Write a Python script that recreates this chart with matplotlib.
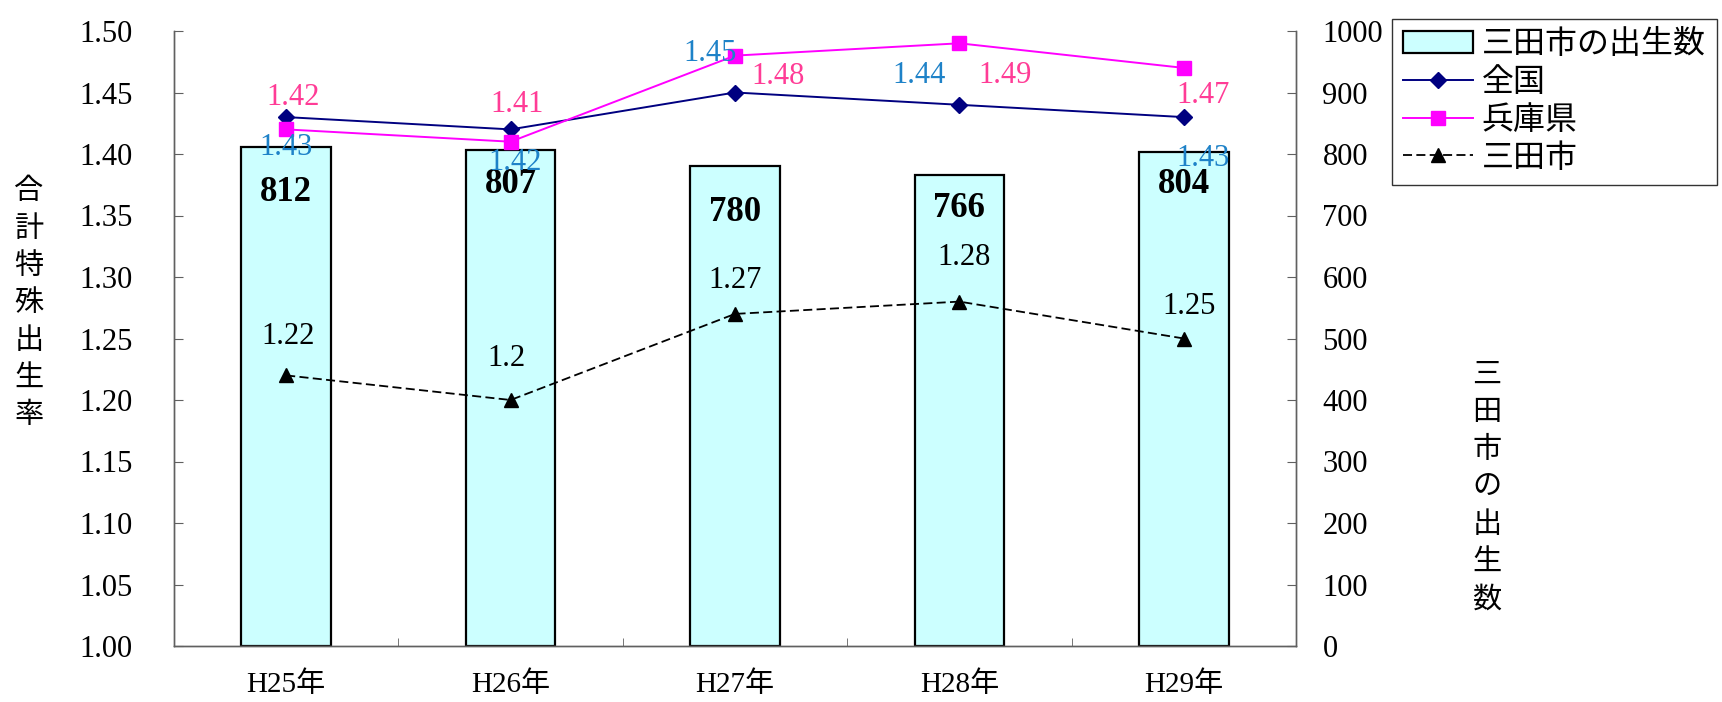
import matplotlib.pyplot as plt
import numpy as np
from matplotlib.ticker import FixedLocator, FuncFormatter

plt.rcParams['font.family'] = ['Liberation Serif', 'Noto Sans CJK JP', 'DejaVu Sans']

# データ
years = ['H25年', 'H26年', 'H27年', 'H28年', 'H29年']
births = [812, 807, 780, 766, 804]               # 三田市の出生数
rate_national = [1.43, 1.42, 1.45, 1.44, 1.43]  # 全国
rate_hyogo = [1.42, 1.41, 1.48, 1.49, 1.47]      # 兵庫県
rate_sanda = [1.22, 1.20, 1.27, 1.28, 1.25]      # 三田市
sanda_labels = ['1.22', '1.2', '1.27', '1.28', '1.25']

# ラベルの位置 (points)
off_bar = [-33, -25, -33, -24, -24]
off_national = [(0, -22), (3, -24), (-18, 28), (-29, 21), (14, -30)]
off_hyogo = [(5, 23), (5, 27), (31, -15), (33, -23), (14, -20)]
off_sanda = [(1, 28), (-3, 30), (0, 24), (3, 32), (4, 23)]

x = np.arange(len(years))
W, H = 1722, 702

fig = plt.figure(figsize=(W / 100, H / 100), dpi=100)
ax = fig.add_axes([174 / W, 56 / H, 1122 / W, 615 / H])
ax2 = ax.twinx()

# 棒グラフ (右軸)
bars = ax2.bar(x, births, width=0.4, color='#CCFFFF', edgecolor='black',
               linewidth=1.6, label='三田市の出生数')
for xi, b, o in zip(x, births, off_bar):
    ax2.annotate(str(b), (xi, b), xytext=(0, o), textcoords='offset points',
                 ha='center', va='center', fontsize=25, fontweight='bold',
                 color='black')

ax.set_zorder(ax2.get_zorder() + 1)
ax.patch.set_visible(False)

l1, = ax.plot(x, rate_national, color='#000080', marker='D', markersize=8,
              linewidth=1.4, label='全国')
l2, = ax.plot(x, rate_hyogo, color='#FF00FF', marker='s', markersize=10,
              linewidth=1.4, label='兵庫県')
l3, = ax.plot(x, rate_sanda, color='black', marker='^', markersize=10,
              linewidth=1.3, linestyle='--', dashes=(5, 2.4), label='三田市')

for xi, v, o in zip(x, rate_national, off_national):
    ax.annotate(f'{v:.2f}', (xi, v), xytext=o, textcoords='offset points',
                ha='center', va='center', fontsize=22, color='#1E82C8')
for xi, v, o in zip(x, rate_hyogo, off_hyogo):
    ax.annotate(f'{v:.2f}', (xi, v), xytext=o, textcoords='offset points',
                ha='center', va='center', fontsize=22, color='#FF3C96')
for xi, s, v, o in zip(x, sanda_labels, rate_sanda, off_sanda):
    ax.annotate(s, (xi, v), xytext=o, textcoords='offset points',
                ha='center', va='center', fontsize=22, color='black')

# 軸
ax.set_xlim(-0.5, len(years) - 0.5)
ax.set_ylim(1.0, 1.5)
ax2.set_ylim(0, 1000)
ax.set_yticks(np.arange(1.0, 1.501, 0.05))
ax.yaxis.set_major_formatter(FuncFormatter(lambda v, p: f'{v:.2f}'))
ax2.set_yticks(np.arange(0, 1001, 100))
ax.set_xticks(x)
ax.set_xticklabels(years, fontsize=21)
ax.xaxis.set_minor_locator(FixedLocator(x[:-1] + 0.5))
ax.tick_params(axis='x', which='major', length=0, pad=18)
ax.tick_params(axis='x', which='minor', direction='in', length=6, color='#606060')
ax.tick_params(axis='y', direction='in', length=6.5, labelsize=22, pad=30, color='#606060')
ax2.tick_params(axis='y', direction='in', length=6.5, labelsize=22, pad=19, color='#606060')

for a in (ax, ax2):
    a.spines['top'].set_visible(False)
    for s in ('left', 'right', 'bottom'):
        a.spines[s].set_color('#606060')
        a.spines[s].set_linewidth(1.0)

# 縦書きの軸ラベル
def vertical_label(text, xc, yc, pitch=37.4):
    n = len(text)
    for i, ch in enumerate(text):
        yy = yc - (n / 2 - 0.5 - i) * pitch
        fig.text(xc / W, 1 - yy / H, ch, ha='center', va='center', fontsize=21)

vertical_label('合計特殊出生率', 29, 304)
vertical_label('三田市の出生数', 1487, 488)

leg = ax.legend(handles=[bars, l1, l2, l3], loc='upper left',
                bbox_to_anchor=(1392 / W, 1 - 19 / H), bbox_transform=fig.transFigure,
                fontsize=23, frameon=True, fancybox=False, edgecolor='black',
                borderpad=0.35, borderaxespad=0, labelspacing=0.25,
                handlelength=2.17, handletextpad=0.28)
leg.get_frame().set_linewidth(1.0)

fig.savefig('out.png', dpi=100)
